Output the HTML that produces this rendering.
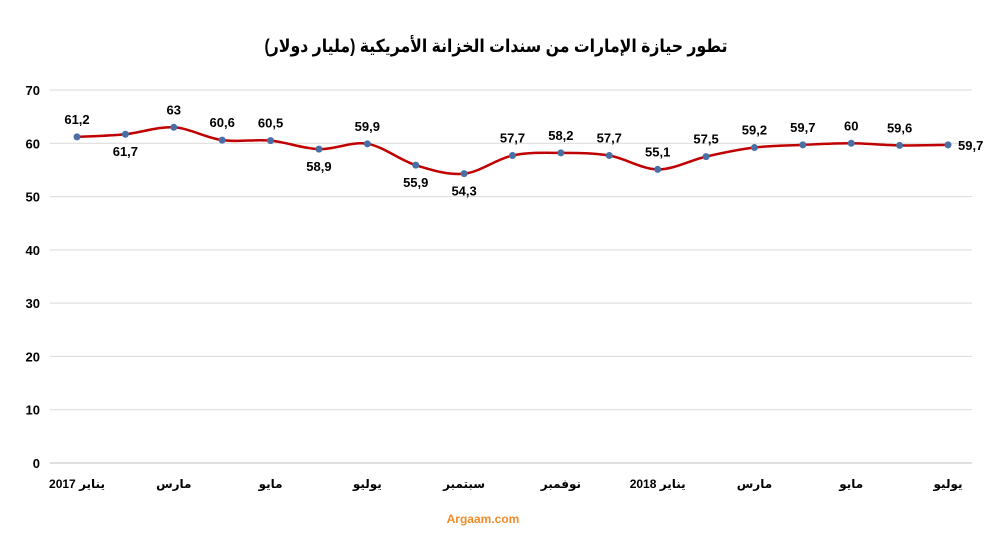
<!DOCTYPE html>
<html><head><meta charset="utf-8"><style>
body{margin:0;background:#fff;}
svg text{font-family:"Liberation Sans","DejaVu Sans",sans-serif;}
</style></head><body>
<svg id="chart" width="992" height="535" xmlns="http://www.w3.org/2000/svg">
<text x="496" y="52" text-anchor="middle" font-size="18" font-weight="bold" fill="#000" textLength="463" lengthAdjust="spacingAndGlyphs">تطور حيازة الإمارات من سندات الخزانة الأمريكية (مليار دولار)</text>
<g id="grid"></g><g id="yticks"></g><g id="xticks"></g><path id="line" fill="none" stroke="#c00000" stroke-width="2.5"/><g id="points"></g><g id="labels"></g>
<text x="483" y="523" text-anchor="middle" font-size="12" font-weight="bold" fill="#f28c28">Argaam.com</text>
</svg>
<script>
const values=[61.2,61.7,63,60.6,60.5,58.9,59.9,55.9,54.3,57.7,58.2,57.7,55.1,57.5,59.2,59.7,60,59.6,59.7];
const valueLabels=["61,2","61,7","63","60,6","60,5","58,9","59,9","55,9","54,3","57,7","58,2","57,7","55,1","57,5","59,2","59,7","60","59,6","59,7"];
const yTicks=[0,10,20,30,40,50,60,70];
const xTickLabels=["يناير 2017","مارس","مايو","يوليو","سبتمبر","نوفمبر","يناير 2018","مارس","مايو","يوليو"];
const below=[1,5,7,8];
const NS="http://www.w3.org/2000/svg";
const y=v=>463-(v/70)*373;
const x=i=>77+i*(871/(values.length-1));
function mk(tag,attrs,parent){const e=document.createElementNS(NS,tag);for(const k in attrs)e.setAttribute(k,attrs[k]);document.getElementById(parent).appendChild(e);return e;}
yTicks.forEach(t=>{
 const l=mk('line',{x1:50,x2:972,y1:y(t),y2:y(t),stroke:t===0?'#bfbfbf':'#d9d9d9','stroke-width':1},'grid');
 
 
 const tx=mk('text',{x:40,y:y(t)+5,'text-anchor':'end','font-size':13,'font-weight':'bold'},'yticks');
 tx.textContent=t;
 
 
});
xTickLabels.forEach((s,k)=>{
 const tx=mk('text',{x:x(k*2),y:488,'text-anchor':'middle','font-size':12,'font-weight':'bold'},'xticks');
 tx.textContent=s;
 
 
});
let d='M'+x(0)+','+y(values[0]);
for(let i=0;i<values.length-1;i++){
 const p0=[x(Math.max(i-1,0)),y(values[Math.max(i-1,0)])],p1=[x(i),y(values[i])],p2=[x(i+1),y(values[i+1])],p3=[x(Math.min(i+2,values.length-1)),y(values[Math.min(i+2,values.length-1)])];
 const c1=[p1[0]+(p2[0]-p0[0])/6,p1[1]+(p2[1]-p0[1])/6],c2=[p2[0]-(p3[0]-p1[0])/6,p2[1]-(p3[1]-p1[1])/6];
 d+=` C${c1[0]},${c1[1]} ${c2[0]},${c2[1]} ${p2[0]},${p2[1]}`;
}
document.getElementById('line').setAttribute('d',d);
values.forEach((v,i)=>{
 const c=mk('circle',{cx:x(i),cy:y(v),r:3.5,fill:'#4a6fa5'},'points');
 
 
 let lx=x(i),ly=y(v)-13,anchor='middle';
 if(below.includes(i))ly=y(v)+22;
 if(i===values.length-1){lx=x(i)+10;ly=y(v)+5;anchor='start';}
 const t=mk('text',{x:lx,y:ly,'text-anchor':anchor,'font-size':13,'font-weight':'bold'},'labels');
 t.textContent=valueLabels[i];
 
 
});
</script>
</body></html>
